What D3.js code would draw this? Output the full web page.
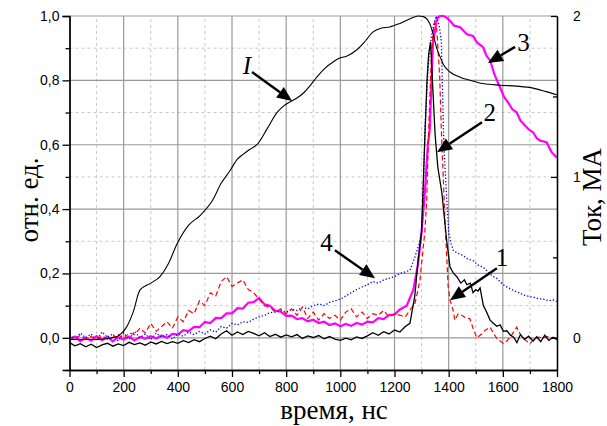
<!DOCTYPE html>
<html>
<head>
  <meta charset="UTF-8">
  <title></title>
  <style>
    body { margin: 0; background: #fff; }
    .tick text { font-family: 'Liberation Sans'; font-size: 14px; fill: #000; }
    .axis path, .axis line { stroke: #000; stroke-width: 1.3; }
  </style>
</head>
<body>
<script src="https://d3js.org/d3.v7.min.js"></script>
<script>
// current, MA (right axis)
var tI = [0, 100, 160, 190, 211, 235, 260, 300, 334, 365, 396, 440, 482, 530, 560, 593, 620, 641, 665, 692, 730, 766, 790, 814, 840, 863, 890, 913, 940, 973, 1000, 1023, 1061, 1090, 1120, 1150, 1183, 1220, 1260, 1287, 1306, 1330, 1342, 1356, 1370, 1380, 1405, 1442, 1480, 1527, 1590, 1650, 1712, 1760, 1800];
var vI = [-0.01, -0.01, 0.0, 0.024, 0.068, 0.16, 0.296, 0.34, 0.38, 0.46, 0.58, 0.7, 0.76, 0.86, 0.96, 1.04, 1.11, 1.14, 1.17, 1.2, 1.3, 1.4, 1.44, 1.466, 1.49, 1.52, 1.57, 1.62, 1.67, 1.714, 1.74, 1.75, 1.79, 1.84, 1.9, 1.924, 1.932, 1.954, 1.984, 2.0, 1.996, 1.954, 1.892, 1.8, 1.74, 1.7, 1.652, 1.62, 1.6, 1.58, 1.57, 1.564, 1.552, 1.53, 1.51];

var grid20 = d3.range(0, 1241, 20);

// 1 - black
var t1 = grid20.concat([1257, 1275, 1287, 1300, 1312, 1320, 1326, 1333, 1340, 1350, 1360, 1375, 1393, 1405, 1418, 1430, 1445, 1458, 1467, 1480, 1490, 1500, 1508, 1516, 1528, 1540, 1553, 1565, 1578, 1590, 1602, 1615, 1628, 1640, 1652, 1665, 1680, 1695, 1712, 1725, 1740, 1755, 1770, 1785, 1800]);
var v1 = [-0.015, -0.025, -0.018, -0.028, -0.02, -0.03, -0.022, -0.017, -0.026, -0.019, -0.024, -0.014, -0.021, -0.016, -0.023, -0.013, -0.019, -0.011, -0.018, -0.012, -0.017, -0.009, -0.015, -0.006, -0.012, -0.002, 0.005, -0.003, 0.012, 0.022, 0.008, 0.018, 0.01, 0.02, 0.014, 0.006, 0.016, 0.004, 0.011, 0.002, 0.009, 0.003, 0.01, -0.002, 0.006, 0.001, 0.007, -0.003, 0.004, -0.004, -0.008, -0.001, -0.006, 0.003, -0.002, 0.006, 0.016, 0.008, 0.019, 0.012, 0.024, 0.018, 0.035,
  0.045, 0.13, 0.24, 0.33, 0.62, 0.8, 0.88, 0.92, 0.8, 0.63, 0.53, 0.45, 0.3, 0.22, 0.2, 0.19, 0.17, 0.18, 0.165, 0.17, 0.14, 0.15, 0.145, 0.155, 0.1, 0.08, 0.055, 0.045, 0.036, 0.04, 0.02, 0.022, 0.008, 0.002, -0.015, 0.01, -0.005, 0.005, -0.01, 0.003, -0.012, 0.008, -0.008, 0.002, -0.006];

// 2 - red dashed
var t2 = grid20.concat([1260, 1275, 1287, 1294, 1306, 1312, 1319, 1327, 1335, 1342, 1348, 1356, 1367, 1373, 1380, 1387, 1393, 1398, 1405, 1415, 1423, 1435, 1449, 1465, 1478, 1490, 1504, 1520, 1534, 1553, 1565, 1578, 1590, 1602, 1615, 1630, 1651, 1665, 1680, 1700, 1715, 1730, 1750, 1765, 1780, 1800]);
var v2 = [0.005, -0.005, 0.008, -0.002, 0.004, -0.006, 0.006, -0.004, 0.002, 0.01, -0.003, 0.015, 0.01, 0.03, 0.015, 0.045, 0.02, 0.035, 0.05, 0.03, 0.065, 0.05, 0.085, 0.075, 0.115, 0.1, 0.14, 0.13, 0.175, 0.19, 0.16, 0.17, 0.18, 0.15, 0.14, 0.12, 0.1, 0.095, 0.08, 0.09, 0.075, 0.09, 0.07, 0.095, 0.06, 0.08, 0.055, 0.075, 0.06, 0.07, 0.055, 0.08, 0.09, 0.065, 0.08, 0.06, 0.075, 0.07, 0.085, 0.065, 0.075, 0.07, 0.065,
  0.09, 0.105, 0.15, 0.18, 0.28, 0.33, 0.43, 0.67, 0.85, 0.95, 0.98, 0.96, 0.81, 0.645, 0.5, 0.35, 0.25, 0.16, 0.117, 0.09, 0.055, 0.075, 0.07, 0.06, 0.06, 0.03, 0.0, 0.01, 0.023, 0.033, 0.015, -0.002, -0.01, -0.018, -0.01, 0.005, 0.033, 0.01, -0.005, -0.018, -0.005, 0.002, 0.0, 0.004, -0.002, 0.0];

// 3 - magenta
var t3 = d3.range(0, 1221, 20).concat([1245, 1270, 1287, 1300, 1312, 1323, 1330, 1342, 1356, 1367, 1380, 1392, 1405, 1420, 1442, 1467, 1490, 1504, 1527, 1540, 1553, 1570, 1590, 1605, 1620, 1635, 1651, 1665, 1680, 1695, 1712, 1725, 1740, 1752, 1762, 1772, 1780, 1790, 1800]);
var v3 = [-0.005, 0.004, -0.01, 0.001, -0.009, 0.005, -0.007, 0.003, -0.011, 0.002, -0.005, 0.004, -0.008, 0.003, -0.003, 0.005, -0.002, 0.007, 0.0, 0.012, 0.01, 0.024, 0.021, 0.034, 0.033, 0.049, 0.046, 0.062, 0.061, 0.076, 0.076, 0.092, 0.091, 0.109, 0.111, 0.124, 0.104, 0.1, 0.084, 0.081, 0.068, 0.069, 0.058, 0.061, 0.051, 0.056, 0.046, 0.05, 0.04, 0.045, 0.036, 0.043, 0.037, 0.046, 0.041, 0.05, 0.048, 0.061, 0.058, 0.071, 0.072, 0.088,
  0.1, 0.15, 0.23, 0.33, 0.45, 0.6, 0.645, 0.915, 0.99, 1.0, 1.0, 0.995, 0.985, 0.97, 0.965, 0.943, 0.938, 0.918, 0.903, 0.876, 0.862, 0.816, 0.778, 0.748, 0.731, 0.71, 0.701, 0.675, 0.661, 0.648, 0.638, 0.62, 0.612, 0.61, 0.607, 0.59, 0.577, 0.568, 0.56];

// 4 - blue dotted
var t4 = grid20.concat([1257, 1275, 1294, 1300, 1306, 1313, 1325, 1336, 1346, 1355, 1365, 1373, 1378, 1382, 1393, 1400, 1410, 1418, 1430, 1442, 1455, 1470, 1490, 1510, 1527, 1545, 1564, 1578, 1595, 1610, 1627, 1645, 1660, 1680, 1700, 1712, 1730, 1750, 1770, 1785, 1800]);
var v4 = [0.01, -0.005, 0.015, 0.0, 0.012, -0.008, 0.018, 0.002, 0.012, -0.01, 0.015, -0.005, 0.02, 0.0, 0.012, -0.006, 0.015, 0.002, 0.01, -0.004, 0.012, 0.005, 0.018, 0.01, 0.02, 0.012, 0.025, 0.018, 0.035, 0.03, 0.045, 0.04, 0.05, 0.048, 0.058, 0.065, 0.07, 0.078, 0.08, 0.085, 0.08, 0.088, 0.085, 0.095, 0.09, 0.1, 0.105, 0.1, 0.11, 0.115, 0.12, 0.13, 0.14, 0.15, 0.158, 0.165, 0.175, 0.17, 0.18, 0.185, 0.19, 0.2, 0.205,
  0.21, 0.25, 0.3, 0.33, 0.45, 0.66, 0.85, 0.935, 0.98, 1.0, 0.97, 0.92, 0.75, 0.6, 0.43, 0.33, 0.29, 0.27, 0.265, 0.26, 0.255, 0.245, 0.24, 0.225, 0.22, 0.205, 0.19, 0.185, 0.17, 0.16, 0.153, 0.145, 0.14, 0.132, 0.128, 0.127, 0.122, 0.12, 0.115, 0.118, 0.113];

var yTicks = [0, 0.2, 0.4, 0.6, 0.8, 1.0];
var yMinor = [-0.1, 0.1, 0.3, 0.5, 0.7, 0.9];
var xTicks = d3.range(0, 1801, 200);
var xMinor = d3.range(100, 1800, 200);
var rTicks = [0, 1, 2];
var rMinor = [0.5, 1.5];

// label, text centre, arrow start, arrow tip (ns, rel. units)
var notes = [
  {txt: "I", italic: true, at: [655, 0.848], from: [674, 0.826], to: [822, 0.736]},
  {txt: "3", at: [1676, 0.919], from: [1645, 0.904], to: [1545, 0.854]},
  {txt: "2", at: [1552, 0.703], from: [1523, 0.670], to: [1357, 0.577]},
  {txt: "4", at: [949, 0.297], from: [980, 0.272], to: [1128, 0.185]},
  {txt: "1", at: [1597, 0.252], from: [1578, 0.216], to: [1405, 0.117]}
];

var serif = "Liberation Serif";
var width = 607, height = 426;
var x = d3.scaleLinear().domain([0, 1800]).range([69.5, 557]);
var y = d3.scaleLinear().domain([-0.1, 1.0]).range([370, 16]);
var yR = d3.scaleLinear().domain([-0.2, 2.0]).range([370, 16]);

var svg = d3.select("body").append("svg")
    .attr("width", width).attr("height", height);

svg.append("clipPath").attr("id", "clip")
  .append("rect").attr("x", x(0)).attr("y", y(1.0) - 1)
  .attr("width", x(1800) - x(0)).attr("height", y(-0.1) - y(1.0) + 1);

// grid
var grid = svg.append("g");
grid.selectAll("line.xm").data(xMinor).enter().append("line")
    .attr("x1", x).attr("x2", x).attr("y1", y(-0.1)).attr("y2", y(1.0))
    .attr("stroke", "#c8c8c8").attr("stroke-dasharray", "3,3");
grid.selectAll("line.ym").data(yMinor).enter().append("line")
    .attr("y1", y).attr("y2", y).attr("x1", x(0)).attr("x2", x(1800))
    .attr("stroke", "#c8c8c8").attr("stroke-dasharray", "3,3");
grid.selectAll("line.xM").data(xTicks.slice(1, -1)).enter().append("line")
    .attr("x1", x).attr("x2", x).attr("y1", y(-0.1)).attr("y2", y(1.0))
    .attr("stroke", "#999").attr("stroke-width", 1.2);
grid.selectAll("line.yM").data(yTicks).enter().append("line")
    .attr("y1", y).attr("y2", y).attr("x1", x(0)).attr("x2", x(1800))
    .attr("stroke", "#999").attr("stroke-width", 1.2);

function lineOf(ts, vs, sc) {
  var pts = ts.map(function(t, i) { return [t, vs[i]]; });
  return d3.line().x(function(d) { return x(d[0]); }).y(function(d) { return sc(d[1]); })(pts);
}

var plot = svg.append("g").attr("clip-path", "url(#clip)").attr("fill", "none");

plot.append("path").attr("d", lineOf(t3, v3, y))
    .attr("stroke", "#ff00ff").attr("stroke-width", 2.2);
plot.append("path").attr("d", lineOf(t4, v4, y))
    .attr("stroke", "#0000ff").attr("stroke-width", 1.3).attr("stroke-dasharray", "1.3,2");
plot.append("path").attr("d", lineOf(t2, v2, y))
    .attr("stroke", "#ff0000").attr("stroke-width", 1.2).attr("stroke-dasharray", "5,3");
plot.append("path").attr("d", lineOf(t1, v1, y))
    .attr("stroke", "#000").attr("stroke-width", 1.3);
plot.append("path")
    .attr("d", d3.line().curve(d3.curveMonotoneX)
      .x(function(d) { return x(d[0]); }).y(function(d) { return yR(d[1]); })(tI.map(function(t, i) { return [t, vI[i]]; })))
    .attr("stroke", "#000").attr("stroke-width", 1.1);

// axes
var comma = function(d) { return d3.format(".1f")(d).replace(".", ","); };
svg.append("g").attr("class", "axis").attr("transform", "translate(" + x(0) + ",0)")
    .call(d3.axisLeft(y).tickValues(yTicks).tickFormat(comma).tickSize(7).tickPadding(3));
svg.append("g").attr("class", "axis").attr("transform", "translate(" + x(0) + ",0)")
    .call(d3.axisLeft(y).tickValues(yMinor).tickFormat("").tickSize(4).tickSizeOuter(0));
svg.append("g").attr("class", "axis").attr("transform", "translate(0," + y(-0.1) + ")")
    .call(d3.axisBottom(x).tickValues(xTicks).tickFormat(d3.format("d")).tickSize(7).tickSizeOuter(0).tickPadding(5));
svg.append("g").attr("class", "axis").attr("transform", "translate(0," + y(-0.1) + ")")
    .call(d3.axisBottom(x).tickValues(xMinor).tickFormat("").tickSize(4).tickSizeOuter(0));
svg.append("g").attr("class", "axis").attr("transform", "translate(" + x(1800) + ",0)")
    .call(d3.axisRight(yR).tickValues(rTicks).tickFormat(d3.format("d")).tickSize(-6).tickSizeOuter(0).tickPadding(16));
svg.append("g").attr("class", "axis").attr("transform", "translate(" + x(1800) + ",0)")
    .call(d3.axisRight(yR).tickValues(rMinor).tickFormat("").tickSize(-4).tickSizeOuter(0));

// axis titles
function title(txt, tr) {
  svg.append("text").attr("transform", tr).attr("text-anchor", "middle")
      .style("font-family", serif).style("font-size", "27px").text(txt);
}
title("время, нс", "translate(334,419)");
title("отн. ед.", "translate(38,200) rotate(-90)");
title("Ток, МА", "translate(601,197) rotate(-90)");

// annotations
var ann = svg.append("g");
notes.forEach(function(n) {
  var x0 = x(n.from[0]), y0 = y(n.from[1]), x1 = x(n.to[0]), y1 = y(n.to[1]);
  var a = Math.atan2(y1 - y0, x1 - x0), hl = 15, hw = 6.5;
  var bx = x1 - hl * Math.cos(a), by = y1 - hl * Math.sin(a);
  ann.append("line").attr("x1", x0).attr("y1", y0).attr("x2", bx).attr("y2", by)
      .attr("stroke", "#000").attr("stroke-width", 2.4);
  ann.append("path")
      .attr("d", "M" + x1 + "," + y1 +
        "L" + (bx - hw * Math.sin(a)) + "," + (by + hw * Math.cos(a)) +
        "L" + (bx + hw * Math.sin(a)) + "," + (by - hw * Math.cos(a)) + "Z")
      .attr("fill", "#000");
  ann.append("text")
      .attr("x", x(n.at[0])).attr("y", y(n.at[1]) + 9)
      .attr("text-anchor", "middle")
      .style("font-family", serif).style("font-size", "25px")
      .style("font-style", n.italic ? "italic" : "normal")
      .text(n.txt);
});
</script>
</body>
</html>
